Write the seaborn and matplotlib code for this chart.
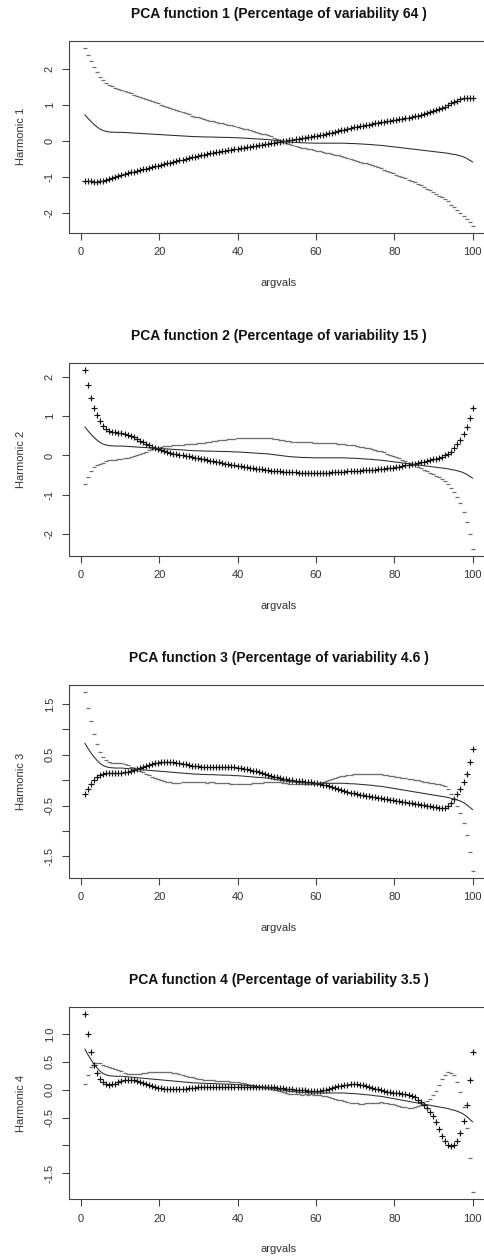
import numpy as np
import matplotlib
matplotlib.use("Agg")
import matplotlib.pyplot as plt
import seaborn as sns

# evaluation grid (128 points between 1 and 100, as in the reference)
argvals = np.linspace(1, 100, 128)

mean_curve = [
    0.73, 0.63, 0.54, 0.46, 0.39, 0.33, 0.29, 0.265,
    0.25, 0.245, 0.24, 0.24, 0.24, 0.235, 0.23, 0.225,
    0.22, 0.215, 0.21, 0.205, 0.20, 0.195, 0.19, 0.185,
    0.18, 0.175, 0.17, 0.165, 0.16, 0.155, 0.15, 0.145,
    0.14, 0.135, 0.13, 0.125, 0.12, 0.12, 0.115, 0.115,
    0.11, 0.11, 0.11, 0.105, 0.105, 0.10, 0.10, 0.10,
    0.095, 0.09, 0.09, 0.085, 0.08, 0.075, 0.07, 0.065,
    0.06, 0.055, 0.05, 0.045, 0.04, 0.03, 0.02, 0.01,
    0.0, -0.01, -0.02, -0.03, -0.035, -0.04, -0.045, -0.05,
    -0.05, -0.055, -0.055, -0.06, -0.06, -0.06, -0.06, -0.06,
    -0.06, -0.06, -0.06, -0.06, -0.06, -0.06, -0.065, -0.07,
    -0.07, -0.075, -0.08, -0.085, -0.09, -0.095, -0.10, -0.11,
    -0.115, -0.12, -0.13, -0.14, -0.15, -0.16, -0.17, -0.18,
    -0.19, -0.20, -0.21, -0.22, -0.23, -0.24, -0.25, -0.26,
    -0.27, -0.28, -0.29, -0.30, -0.31, -0.32, -0.33, -0.34,
    -0.36, -0.37, -0.39, -0.41, -0.44, -0.48, -0.53, -0.58,
]

# mean + harmonic curves ("+" points)
plus_1 = [
    -1.11, -1.12, -1.12, -1.13, -1.13, -1.12, -1.10, -1.07,
    -1.05, -1.02, -0.99, -0.96, -0.93, -0.905, -0.885, -0.865,
    -0.845, -0.825, -0.805, -0.785, -0.765, -0.745, -0.72, -0.70,
    -0.68, -0.655, -0.635, -0.615, -0.595, -0.575, -0.555, -0.535,
    -0.515, -0.495, -0.475, -0.455, -0.435, -0.415, -0.40, -0.38,
    -0.36, -0.345, -0.33, -0.315, -0.30, -0.285, -0.27, -0.255,
    -0.24, -0.225, -0.21, -0.195, -0.18, -0.17, -0.155, -0.145,
    -0.13, -0.12, -0.105, -0.095, -0.08, -0.065, -0.05, -0.04,
    -0.025, -0.01, 0.005, 0.02, 0.035, 0.05, 0.065, 0.08,
    0.095, 0.11, 0.12, 0.135, 0.15, 0.165, 0.18, 0.20,
    0.215, 0.235, 0.255, 0.275, 0.295, 0.315, 0.335, 0.355,
    0.375, 0.395, 0.41, 0.425, 0.44, 0.455, 0.47, 0.485,
    0.50, 0.515, 0.53, 0.545, 0.56, 0.575, 0.59, 0.605,
    0.62, 0.635, 0.65, 0.665, 0.685, 0.705, 0.725, 0.75,
    0.775, 0.80, 0.83, 0.86, 0.89, 0.92, 0.95, 0.985,
    1.04, 1.08, 1.12, 1.16, 1.19, 1.20, 1.19, 1.18,
]

plus_2 = [
    2.18, 1.80, 1.47, 1.21, 1.02, 0.88, 0.76, 0.67,
    0.62, 0.60, 0.59, 0.58, 0.565, 0.545, 0.52, 0.49,
    0.46, 0.42, 0.38, 0.34, 0.30, 0.26, 0.22, 0.19,
    0.16, 0.135, 0.11, 0.09, 0.07, 0.05, 0.035, 0.02,
    0.005, -0.01, -0.025, -0.04, -0.055, -0.07, -0.085, -0.10,
    -0.115, -0.13, -0.145, -0.16, -0.175, -0.19, -0.205, -0.22,
    -0.235, -0.25, -0.265, -0.28, -0.29, -0.30, -0.315, -0.325,
    -0.335, -0.345, -0.355, -0.365, -0.375, -0.385, -0.39, -0.40,
    -0.405, -0.41, -0.415, -0.42, -0.425, -0.43, -0.435, -0.44,
    -0.44, -0.445, -0.445, -0.445, -0.445, -0.44, -0.44, -0.435,
    -0.435, -0.43, -0.425, -0.42, -0.415, -0.41, -0.405, -0.40,
    -0.395, -0.39, -0.385, -0.38, -0.375, -0.37, -0.365, -0.36,
    -0.355, -0.35, -0.34, -0.33, -0.32, -0.31, -0.30, -0.285,
    -0.27, -0.255, -0.24, -0.225, -0.21, -0.19, -0.175, -0.16,
    -0.14, -0.12, -0.10, -0.08, -0.06, -0.03, 0.0, 0.04,
    0.10, 0.18, 0.28, 0.40, 0.55, 0.73, 0.95, 1.21,
]

plus_3 = [
    -0.27, -0.17, -0.08, 0.01, 0.07, 0.11, 0.13, 0.14,
    0.145, 0.15, 0.15, 0.15, 0.15, 0.155, 0.165, 0.18,
    0.195, 0.215, 0.235, 0.255, 0.275, 0.295, 0.315, 0.33,
    0.345, 0.355, 0.36, 0.365, 0.36, 0.355, 0.345, 0.335,
    0.32, 0.31, 0.30, 0.29, 0.28, 0.275, 0.27, 0.265,
    0.265, 0.26, 0.26, 0.26, 0.26, 0.26, 0.26, 0.26,
    0.26, 0.255, 0.25, 0.24, 0.23, 0.22, 0.205, 0.19,
    0.175, 0.16, 0.145, 0.13, 0.11, 0.09, 0.07, 0.055,
    0.04, 0.03, 0.02, 0.01, 0.0, -0.01, -0.015, -0.02,
    -0.025, -0.03, -0.035, -0.045, -0.055, -0.07, -0.085, -0.10,
    -0.12, -0.14, -0.16, -0.18, -0.195, -0.21, -0.23, -0.245,
    -0.26, -0.27, -0.285, -0.295, -0.305, -0.315, -0.325, -0.335,
    -0.345, -0.355, -0.365, -0.375, -0.385, -0.395, -0.405, -0.415,
    -0.425, -0.435, -0.445, -0.455, -0.465, -0.475, -0.485, -0.495,
    -0.505, -0.515, -0.525, -0.535, -0.545, -0.55, -0.54, -0.51,
    -0.45, -0.37, -0.28, -0.17, -0.04, 0.12, 0.36, 0.62,
]

plus_4 = [
    1.35, 0.99, 0.68, 0.45, 0.30, 0.19, 0.13, 0.10,
    0.09, 0.095, 0.11, 0.13, 0.15, 0.165, 0.175, 0.175,
    0.165, 0.15, 0.135, 0.115, 0.095, 0.075, 0.06, 0.045,
    0.035, 0.025, 0.015, 0.01, 0.005, 0.005, 0.005, 0.01,
    0.015, 0.02, 0.025, 0.03, 0.035, 0.04, 0.045, 0.05,
    0.05, 0.055, 0.055, 0.055, 0.055, 0.05, 0.05, 0.045,
    0.045, 0.045, 0.045, 0.045, 0.045, 0.05, 0.05, 0.055,
    0.055, 0.055, 0.055, 0.055, 0.05, 0.045, 0.04, 0.035,
    0.03, 0.025, 0.02, 0.01, 0.005, 0.0, -0.005, -0.01,
    -0.015, -0.02, -0.025, -0.025, -0.025, -0.02, -0.01, 0.0,
    0.015, 0.03, 0.045, 0.06, 0.07, 0.08, 0.09, 0.095,
    0.095, 0.095, 0.09, 0.08, 0.065, 0.05, 0.035, 0.02,
    0.005, -0.01, -0.025, -0.035, -0.045, -0.055, -0.06, -0.065,
    -0.07, -0.08, -0.095, -0.115, -0.14, -0.18, -0.22, -0.27,
    -0.33, -0.40, -0.48, -0.58, -0.70, -0.83, -0.93, -0.99,
    -1.02, -1.00, -0.92, -0.77, -0.57, -0.27, 0.17, 0.68,
]

plus_curves = [plus_1, plus_2, plus_3, plus_4]
variability = ["64", "15", "4.6", "3.5"]
x_label = "argvals"
x_ticks = [0, 20, 40, 60, 80, 100]
y_ticks = [
    [-2, -1, 0, 1, 2],
    [-2, -1, 0, 1, 2],
    [-1.5, -1.0, -0.5, 0.0, 0.5, 1.0, 1.5],
    [-1.5, -1.0, -0.5, 0.0, 0.5, 1.0],
]
y_ticklabels = [
    ["-2", "-1", "0", "1", "2"],
    ["-2", "-1", "0", "1", "2"],
    ["-1.5", "", "-0.5", "", "0.5", "", "1.5"],
    ["-1.5", "", "-0.5", "0.0", "0.5", "1.0"],
]

sns.set_theme(style="ticks")
plt.rcParams["font.family"] = ["Liberation Sans", "DejaVu Sans"]
plt.rcParams["axes.unicode_minus"] = False

W, H = 485, 1259
fig = plt.figure(figsize=(W / 100, H / 100), dpi=100)
fig.patch.set_facecolor("white")

boxes = [(41.0, 232.7), (362.7, 555.7), (685.3, 877.7), (1007.3, 1199.3)]
left_px, right_px = 69.3, 488.2
mean_arr = np.array(mean_curve)

for k in range(4):
    top, bot = boxes[k]
    hpx = bot - top
    wpx = right_px - left_px
    ax = fig.add_axes([left_px / W, 1 - bot / H, wpx / W, hpx / H])
    plus = np.array(plus_curves[k])
    minus = 2 * mean_arr - plus

    sns.lineplot(x=argvals, y=mean_arr, ax=ax, color="#2a2a2a", linewidth=0.75)
    sns.scatterplot(x=argvals, y=minus, ax=ax, marker="_", s=7,
                    color="#6e6e6e", linewidth=0.9)
    sns.scatterplot(x=argvals, y=plus, ax=ax, marker="+", s=13,
                    color="#141414", linewidth=0.85)

    ax.margins(x=0.04, y=0.04)
    ax.set_xticks(x_ticks)
    ax.set_xticklabels([str(t) for t in x_ticks])
    ax.set_yticks(y_ticks[k])
    ax.set_yticklabels(y_ticklabels[k])

    for sp in ax.spines.values():
        sp.set_visible(True)
        sp.set_color("#444444")
        sp.set_linewidth(0.8)
    ax.tick_params(axis="both", direction="out", length=5, width=0.8,
                   color="#444444", labelsize=8, labelcolor="#333333",
                   bottom=True, left=True, top=False, right=False)
    ax.tick_params(axis="x", pad=5.5)
    ax.tick_params(axis="y", pad=5.5, labelrotation=90)
    for lbl in ax.get_yticklabels():
        lbl.set_va("center")

    ax.set_xlabel(x_label, fontsize=8, color="#333333")
    ax.xaxis.set_label_coords(0.5, -50.0 / hpx)
    ax.xaxis.label.set_va("center")
    ax.set_ylabel(f"Harmonic {k + 1}", fontsize=8, color="#333333")
    ax.yaxis.set_label_coords(-48.6 / wpx, 0.5)
    ax.yaxis.label.set_va("center")

    ax.text(0.5, 1 + 27.0 / hpx,
            f"PCA function {k + 1} (Percentage of variability {variability[k]} )",
            transform=ax.transAxes, ha="center", va="center",
            fontsize=10, fontweight="bold", color="#111111")

fig.savefig("out.png", dpi=100)
